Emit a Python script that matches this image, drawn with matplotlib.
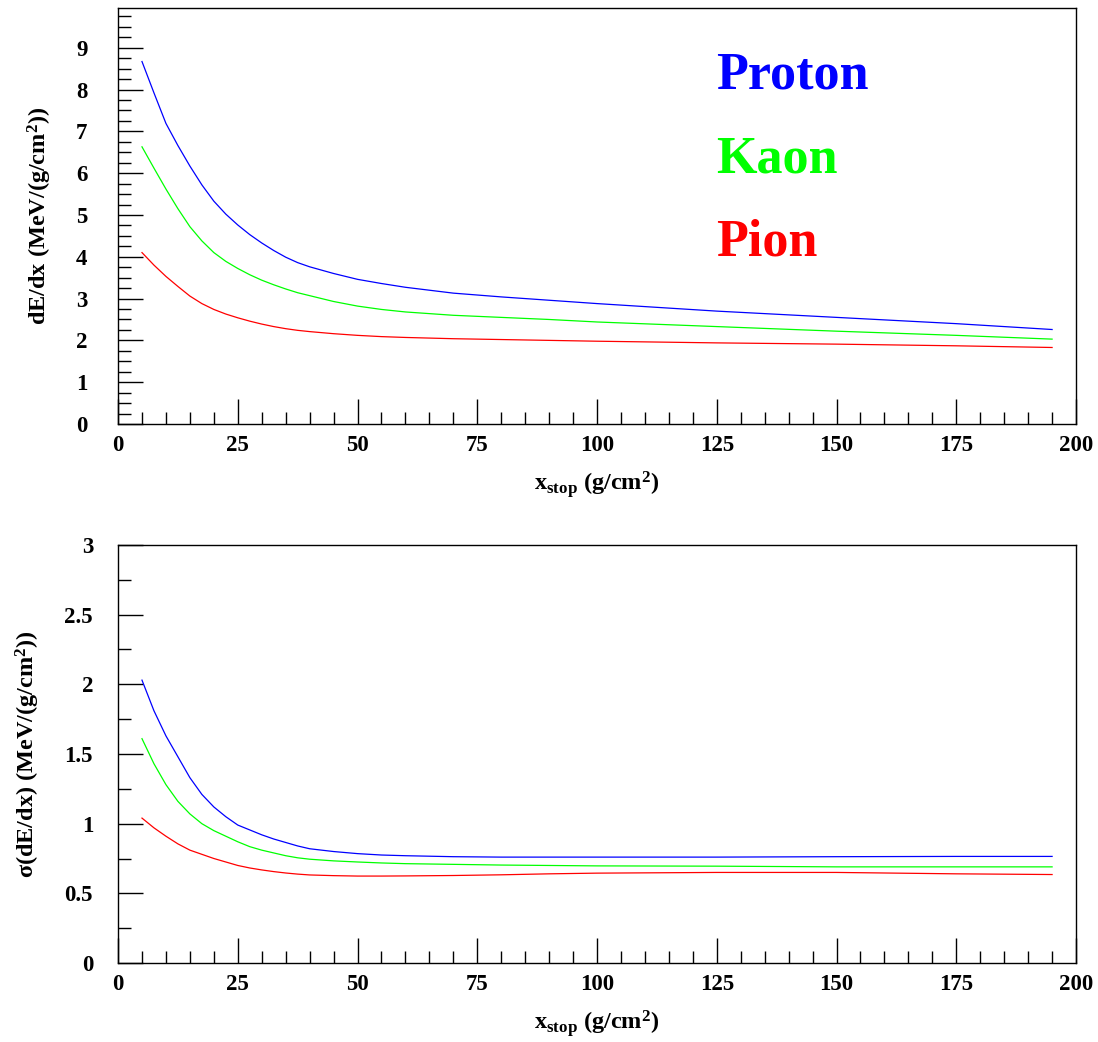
import matplotlib
matplotlib.use("Agg")
import matplotlib.pyplot as plt
from matplotlib.ticker import MultipleLocator, FormatStrFormatter

plt.rcParams['font.family'] = 'Liberation Serif'
plt.rcParams['font.weight'] = 'bold'
plt.rcParams['mathtext.fontset'] = 'custom'
plt.rcParams['mathtext.rm'] = 'Liberation Serif:bold'
plt.rcParams['mathtext.it'] = 'Liberation Serif:bold'
plt.rcParams['mathtext.bf'] = 'Liberation Serif:bold'

# x_stop (g/cm^2)
x_stop = [5, 7.5, 10, 12.5, 15, 17.5, 20, 22.5, 25, 27.5, 30, 32.5, 35, 37.5, 40,
          45, 50, 55, 60, 70, 80, 90, 100, 125, 150, 175, 195]

# dE/dx moyen
dedx_proton = [8.67, 7.92, 7.19, 6.66, 6.17, 5.72, 5.33, 5.02, 4.76, 4.53, 4.33, 4.15, 3.99, 3.86, 3.76,
               3.60, 3.46, 3.36, 3.27, 3.13, 3.04, 2.96, 2.88, 2.70, 2.55, 2.40, 2.26]
dedx_kaon = [6.63, 6.12, 5.62, 5.15, 4.72, 4.38, 4.10, 3.89, 3.72, 3.57, 3.44, 3.33, 3.23, 3.14, 3.07,
             2.93, 2.82, 2.74, 2.68, 2.60, 2.55, 2.50, 2.44, 2.33, 2.22, 2.12, 2.03]
dedx_pion = [4.10, 3.80, 3.53, 3.29, 3.06, 2.88, 2.74, 2.63, 2.54, 2.46, 2.39, 2.33, 2.28, 2.24, 2.21,
             2.16, 2.12, 2.09, 2.07, 2.04, 2.02, 2.00, 1.98, 1.94, 1.91, 1.87, 1.83]

# sigma(dE/dx)
sig_proton = [2.03, 1.81, 1.63, 1.48, 1.33, 1.21, 1.12, 1.05, 0.99, 0.955, 0.92, 0.89, 0.865, 0.84, 0.82,
              0.80, 0.785, 0.775, 0.77, 0.763, 0.76, 0.76, 0.76, 0.76, 0.763, 0.765, 0.765]
sig_kaon = [1.61, 1.43, 1.28, 1.16, 1.07, 1.00, 0.95, 0.91, 0.87, 0.835, 0.81, 0.79, 0.77, 0.755, 0.745,
            0.733, 0.725, 0.718, 0.713, 0.708, 0.703, 0.70, 0.697, 0.695, 0.69, 0.69, 0.69]
sig_pion = [1.04, 0.97, 0.91, 0.855, 0.81, 0.78, 0.75, 0.725, 0.70, 0.682, 0.668, 0.656, 0.646, 0.638, 0.632,
            0.627, 0.624, 0.624, 0.625, 0.628, 0.633, 0.64, 0.645, 0.65, 0.65, 0.64, 0.635]

particules = ['Proton', 'Kaon', 'Pion']
couleurs = ['#0000ff', '#00ff00', '#ff0000']

fig = plt.figure(figsize=(10.98, 10.42), dpi=100)
ax1 = fig.add_axes([0.1075, 0.5931, 0.8725, 0.3992])
ax2 = fig.add_axes([0.1075, 0.0758, 0.8725, 0.4012])


def style_axe(ax, ymax, ymaj, ymin, ypad):
    ax.set_xlim(0, 200)
    ax.set_ylim(0, ymax)
    ax.xaxis.set_major_locator(MultipleLocator(25))
    ax.xaxis.set_minor_locator(MultipleLocator(5))
    ax.yaxis.set_major_locator(MultipleLocator(ymaj))
    ax.yaxis.set_minor_locator(MultipleLocator(ymin))
    ax.yaxis.set_major_formatter(FormatStrFormatter('%g'))
    ax.tick_params(which='both', direction='in', top=False, right=False, width=1)
    ax.tick_params(which='major', length=18, labelsize=16.5)
    ax.tick_params(which='minor', length=9)
    ax.tick_params(axis='x', which='major', pad=8)
    ax.tick_params(axis='y', which='major', pad=ypad)
    for lab in ax.get_xticklabels() + ax.get_yticklabels():
        lab.set_fontweight('bold')
    for s in ax.spines.values():
        s.set_linewidth(1)
    ax.set_xlabel(r'x$_{\mathrm{stop}}$ (g/cm$^{2}$)', fontsize=17.5, fontweight='bold', labelpad=9)


style_axe(ax1, 9.95, 1, 0.25, 22)
style_axe(ax2, 3.0, 0.5, 0.25, 18)

for y, c in zip([dedx_proton, dedx_kaon, dedx_pion], couleurs):
    ax1.plot(x_stop, y, color=c, lw=0.9)
for y, c in zip([sig_proton, sig_kaon, sig_pion], couleurs):
    ax2.plot(x_stop, y, color=c, lw=0.9)

ax1.set_ylabel('dE/dx (MeV/(g/cm$^{2}$))', fontsize=17.5, fontweight='bold', labelpad=16)
ax2.set_ylabel('σ(dE/dx) (MeV/(g/cm$^{2}$))', fontsize=17.5, fontweight='bold', labelpad=16)

# legende en texte
for nom, c, ypos in zip(particules, couleurs, [8.34, 6.32, 4.34]):
    ax1.text(124.8, ypos, nom, color=c, fontsize=37.5, fontweight='bold', ha='left', va='center')

fig.savefig('out.png', dpi=100)
